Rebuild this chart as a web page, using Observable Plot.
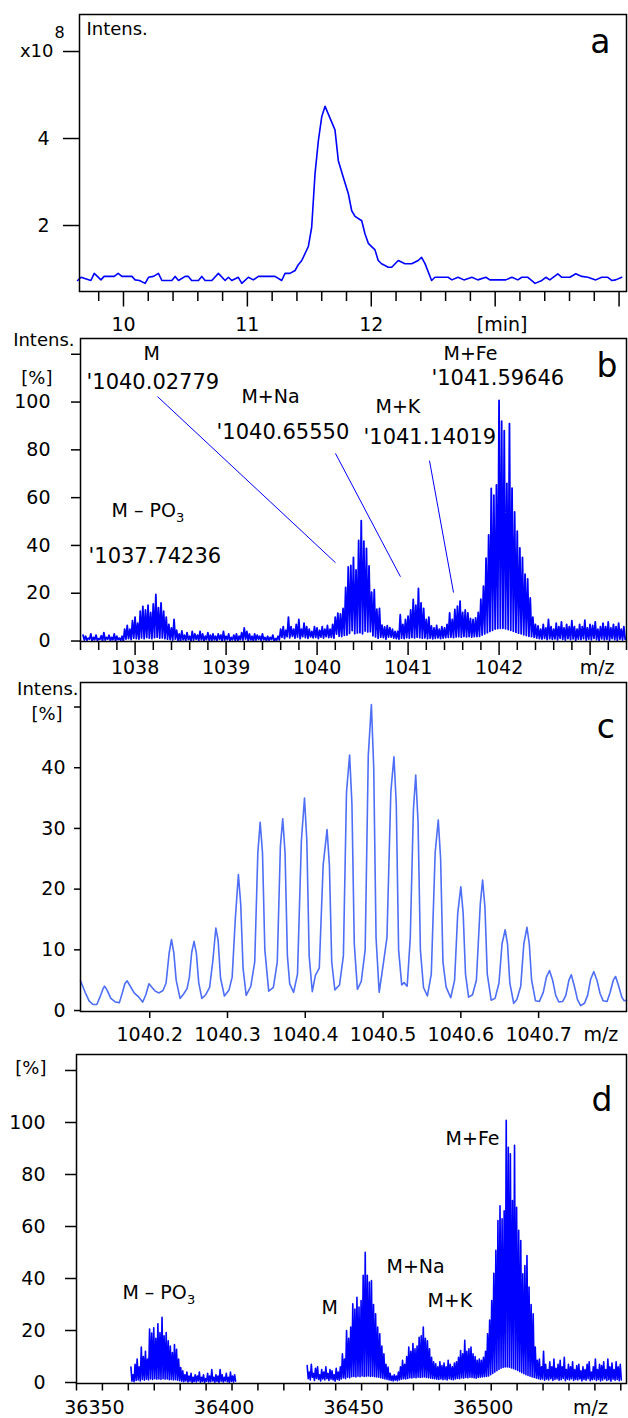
<!DOCTYPE html>
<html><head><meta charset="utf-8">
<script src="https://cdn.jsdelivr.net/npm/d3@7"></script>
<script src="https://cdn.jsdelivr.net/npm/@observablehq/plot@0.6"></script>
<style>
html,body{margin:0;padding:0;background:#fff;}
#wrap{position:relative;width:628px;height:1418px;overflow:hidden;background:#fff;}
</style></head><body><div id="wrap"></div>
<script>
// ================= DATA =================
// ---- Panel a: chromatogram (time [min], intensity x1e8) ----
const aTime = [9.63,9.657,9.737,9.764,9.818,9.844,9.925,9.957,9.987,10.068,10.094,10.129,10.175,10.202,10.242,10.282,10.31,10.39,10.417,10.444,10.498,10.524,10.55,10.605,10.632,10.659,10.713,10.766,10.82,10.847,10.874,10.927,10.955,11.008,11.048,11.089,11.223,11.277,11.304,11.344,11.385,11.411,11.439,11.492,11.519,11.546,11.573,11.6,11.627,11.707,11.734,11.774,11.815,11.842,11.869,11.923,11.949,11.976,12.03,12.056,12.083,12.137,12.165,12.218,12.272,12.326,12.379,12.406,12.433,12.487,12.514,12.62,12.651,12.70,12.748,12.812,12.86,12.925,12.957,13.086,13.135,13.183,13.215,13.264,13.322,13.377,13.409,13.441,13.506,13.538,13.603,13.651,13.699,13.748,13.812,13.86,13.909,13.941,13.973,14.022];
const aInt = [0.736,0.81,0.736,0.90,0.75,0.83,0.83,0.90,0.83,0.83,0.75,0.736,0.67,0.81,0.83,0.90,0.736,0.736,0.83,0.736,0.83,0.83,0.736,0.736,0.83,0.736,0.736,0.90,0.736,0.81,0.736,0.81,0.67,0.81,0.75,0.83,0.83,0.736,0.90,0.90,0.966,1.10,1.195,1.517,1.96,3.19,3.95,4.5,4.74,4.20,3.49,3.11,2.73,2.34,2.21,2.11,1.81,1.59,1.44,1.195,1.12,1.04,1.04,1.195,1.12,1.12,1.195,1.27,1.13,0.736,0.81,0.81,0.75,0.81,0.75,0.81,0.75,0.81,0.75,0.75,0.81,0.75,0.81,0.81,0.67,0.736,0.81,0.75,0.89,0.81,0.81,0.89,0.83,0.81,0.75,0.81,0.81,0.736,0.75,0.81];
const aYTicks = [2, 4, 6];
const aYTickLabels = ["2", "4", ""];
const aXMajor = [10, 11, 12, 13, 14];
const aXMajorLabels = ["10", "11", "12", "", ""];
const aXMinor = [9.8,10.2,10.4,10.6,10.8,11.2,11.4,11.6,11.8,12.2,12.4,12.6,12.8,13.2,13.4,13.6,13.8];
const aUnitTick = [13];
const aUnitLabel = ["[min]"];

// ---- Panel b: m/z spectrum (regular sampling, start + i*step) ----
const bStart = 1037.428;
const bStep = 0.0285714;
const bHi = [2.5,
 2,1.2,3,1.5,2.5,1,2.2,3.5,1.5,2.4,
 1.5,3,2,1.2,2,5,6.5,5,8.5,10,
 7.5,12.5,14.5,13,15,12,15.5,19.5,14,16,
 12.5,10,7,5.5,9,4.5,3,4.2,2.5,3.5,
 2,4,3,2.5,4,3,2,3.5,2.5,3,
 2,3,2.5,4,2,3,1.5,2.5,3,2,
 3.5,5.5,4,3,2,3,2.5,2,3,1.5,
 2,1.5,2.5,1,2,5,6,4.5,10,6,
 5,7,9,5,7.5,6,5,4,6,5.5,
 4.5,6,5,6.5,5,7,10,11.7,11.4,13.6,
 22.4,31,31.6,35,29.8,42.1,50.4,41.8,38.8,31.4,
 20.4,21.5,13.3,13.7,6.6,5.9,6.4,5.6,5,4,
 4,11,7,9,10.4,13,17.4,15,22,16,
 13.7,9,10,6.3,5.5,6.5,5,6,5.5,7,
 11.8,9,13.2,14.6,16.7,12,13,11.8,9.5,9,
 9.7,12,17.5,23,34.7,44.4,63.9,61,65.3,100.7,
 92,88,66,91,64,54,46,39,35,28,
 26,18,10,7,6.3,5,7,5.5,9,6,
 5,7.5,6,8,5.5,7,6,8.5,6,5,
 7,6,8.7,5.5,7,6.5,8,5,6,7.5,
 6,8,5.5,7,6,7.5,5,6];
const bLo = [0.4,
 0.3,0.8,0,0.5,0.2,0.7,0,0.4,0.8,0.2,
 0.5,0,0.6,0.3,0,0.8,1,0.6,1.2,1,
 0.8,1.3,1,1.5,1.2,1,1.4,1.6,1.2,1.3,
 1,0.8,0.6,0.4,0.8,0.3,0,0.5,0.2,0.6,
 0,0.4,0.7,0.2,0.5,0,0.6,0.3,0.1,0.5,
 0.2,0.7,0,0.4,0.6,0.1,0.5,0.3,0,0.6,
 0.4,0.8,0.2,0.5,0,0.4,0.7,0.2,0.5,0.1,
 0.3,0.6,0,0.4,0.5,1.5,1,1.8,1.3,2,
 1.2,1.6,1,1.8,1.4,1.1,1.7,1.3,1.5,1,
 1.6,1.2,1.8,1.4,1.5,1.2,2.9,2,1.9,2.4,
 2.5,3.2,4.4,3.1,3.4,3.5,3,4.2,3.8,3.9,
 2.2,1.7,1.2,1.6,1.4,0.8,1.6,1.6,1.2,1,
 0.8,1.2,1,1.4,1.2,1.5,1.3,1.6,1.4,1.2,
 1.3,1,1.2,0.9,1.1,1.3,1,1.2,1.4,1.5,
 1.6,1.4,1.7,1.8,1.6,1.9,1.7,1.8,1.6,1.8,
 1.9,2,2.5,3,3.5,4,4.5,5,5.2,5.3,
 5.3,5.1,4.8,4.5,4.1,3.7,3.3,3,2.6,2.3,
 2,1.8,1.5,1.2,1,0.8,1.1,0.6,1,0.7,
 0.9,0.5,1.1,0.7,0.4,1,0.6,0.9,0.3,0.8,
 0.6,1,0.4,0.8,0.5,1.1,0.6,0.3,0.9,0.5,
 0.7,0.4,1,0.6,0.3,0.8,0.5,0.7];
const bYTicks = [0,20,40,60,80,100,120];
const bYTickLabels = ["0","20","40","60","80","100",""];
const bXMajor = [1038,1039,1040,1041,1042,1043];
const bXMajorLabels = ["1038","1039","1040","1041","1042",""];
const bXMinor = [1037.4,1037.6,1037.8,1038.2,1038.4,1038.6,1038.8,1039.2,1039.4,1039.6,1039.8,1040.2,1040.4,1040.6,1040.8,1041.2,1041.4,1041.6,1041.8,1042.2,1042.4,1042.6,1042.8,1043.2,1043.4];
const bUnitTick = [1043];
const bUnitLabel = ["m/z"];
// annotations
const bNameText = ["M","M+Na","M+K","M+Fe","M \u2013 PO"];
const bNameX = [1038.092,1039.169,1040.642,1041.389,1037.741];
const bNameY = [117.4,99.4,95.6,117.8,51.7];
const bSubText = ["3"];
const bSubX = [1037.741];
const bSubY = [51.7];
const bMassText = ["'1040.02779","'1040.65550","'1041.14019","'1041.59646","'1037.74236"];
const bMassX = [1037.466,1038.895,1040.51,1041.257,1037.488];
const bMassY = [105.6,84.7,82.6,107.3,32.8];
const bLeadX1 = [1038.246,1040.202,1041.235];
const bLeadY1 = [102.3,78.5,75.5];
const bLeadX2 = [1040.202,1040.916,1041.499];
const bLeadY2 = [32.8,26.9,20.3];

// ---- Panel c: zoom on the M isotope cluster ----
const cMz = [1040.111,1040.117,1040.122,1040.127,1040.132,1040.136,1040.140,1040.142,1040.145,1040.150,1040.156,1040.161,1040.165,1040.168,1040.171,1040.175,1040.180,1040.186,1040.191,1040.195,1040.199,1040.203,1040.207,1040.212,1040.217,1040.221,1040.225,1040.228,1040.231,1040.234,1040.239,1040.244,1040.248,1040.251,1040.254,1040.257,1040.260,1040.263,1040.267,1040.272,1040.277,1040.281,1040.285,1040.288,1040.291,1040.296,1040.302,1040.306,1040.310,1040.314,1040.317,1040.320,1040.324,1040.330,1040.335,1040.339,1040.342,1040.345,1040.348,1040.353,1040.359,1040.364,1040.368,1040.371,1040.374,1040.377,1040.380,1040.385,1040.390,1040.395,1040.399,1040.402,1040.405,1040.409,1040.413,1040.418,1040.423,1040.428,1040.431,1040.434,1040.438,1040.444,1040.449,1040.453,1040.457,1040.460,1040.463,1040.467,1040.472,1040.477,1040.481,1040.485,1040.488,1040.491,1040.495,1040.500,1040.505,1040.510,1040.514,1040.517,1040.520,1040.524,1040.527,1040.531,1040.535,1040.539,1040.542,1040.545,1040.548,1040.552,1040.557,1040.562,1040.567,1040.571,1040.574,1040.577,1040.581,1040.587,1040.592,1040.596,1040.600,1040.603,1040.606,1040.610,1040.615,1040.620,1040.625,1040.628,1040.631,1040.634,1040.639,1040.644,1040.649,1040.653,1040.657,1040.660,1040.663,1040.668,1040.672,1040.677,1040.681,1040.685,1040.688,1040.691,1040.696,1040.701,1040.706,1040.710,1040.714,1040.718,1040.722,1040.726,1040.731,1040.735,1040.739,1040.742,1040.746,1040.750,1040.754,1040.759,1040.763,1040.767,1040.771,1040.775,1040.779,1040.783,1040.788,1040.792,1040.796,1040.799,1040.803,1040.807,1040.810,1040.813];
const cInt = [4.9,3.0,1.6,1.0,1.0,2.2,3.6,4.0,3.4,2.0,1.4,1.3,3.0,4.4,4.9,4.0,2.9,2.2,1.4,2.6,4.4,3.8,3.2,2.9,3.3,4.5,9.5,11.7,9.5,5.0,2.0,2.8,3.6,5.5,9.6,11.4,9.4,4.6,2.0,2.6,3.8,8.0,13.6,11.5,5.4,2.4,3.4,5.5,15.0,22.4,17.5,7.0,2.5,4.0,8.0,26.0,31.0,26.0,10.0,3.2,3.8,8.0,27.0,31.6,26.0,9.0,4.4,3.0,6.0,28.0,35.0,28.0,9.0,3.1,5.8,7.0,24.0,29.8,24.0,8.0,3.4,4.2,9.0,36.0,42.1,34.0,11.0,3.5,4.8,10.0,42.0,50.4,40.0,12.0,3.0,7.4,12.0,36.0,41.8,34.0,10.0,4.2,4.6,4.0,12.0,33.0,38.8,31.0,10.0,3.8,2.4,6.0,26.0,31.4,25.0,8.0,3.9,2.1,5.0,16.0,20.4,16.0,6.0,2.2,2.6,5.0,17.5,21.5,17.0,6.0,1.7,2.0,4.5,11.0,13.3,11.0,4.5,1.2,1.8,4.0,11.0,13.7,11.0,5.0,1.6,1.5,3.0,5.5,6.6,5.0,2.5,1.4,1.5,2.5,5.0,5.9,4.0,1.8,0.8,1.2,2.5,5.2,6.4,5.0,2.8,1.6,1.5,3.0,5.0,5.6,4.0,2.2,1.6,1.7];
const cYTicks = [0,10,20,30,40,50];
const cYTickLabels = ["0","10","20","30","40",""];
const cXTicks = [1040.2,1040.3,1040.4,1040.5,1040.6,1040.7];
const cXTickLabels = ["1040.2","1040.3","1040.4","1040.5","1040.6","1040.7"];

// ---- Panel d: deconvoluted mass spectrum (two regularly sampled segments) ----
const d1Start = 36361.0, d2Start = 36429.0, dStep = 0.8;
const d1Hi = [5.9,3,7,9,6,13.6,10,12,9,20.6,
 19,21,17,22.6,19.2,25.1,18,19.2,16,14,
 11.5,14.6,12.8,9,5.8,4.5,3,4,2.5,3.5,
 2,3,2.5,4,2,3,1.5,3.5,2.5,5,
 2,3,2.5,5,3,2,3.5,2,4,2.5,3];
const d1Lo = [0.5,0.3,0.8,1,0.6,1.2,0.9,1.3,1,1.4,
 1.2,1.5,1.3,1.4,1.2,1.5,1.3,1.4,1.1,1.2,
 1,1.1,0.9,0.7,0.5,0.3,0.6,0.2,0.5,0,
 0.4,0.2,0.6,0.1,0.4,0,0.5,0.2,0.3,0.6,
 0.1,0.4,0,0.5,0.2,0.6,0.3,0,0.4,0.2,0.5];
const d2Hi = [6.5,4,7,3.5,5.5,6,3,5,4,6,
 3.5,5,4.5,3,5.5,4,6,11,9,20,
 17,21.3,30.3,28.3,32.8,29,31.5,41.2,50.1,41.2,
 38.6,39.2,30,26.4,21.3,18.7,14,11,7,5.9,
 3.5,2.5,3,2.5,4,6,8.5,7,10,13.6,
 12,15,13,14,17.4,18,21.3,17,16,13,
 9.7,8,7.2,6,8,6.5,7.5,6,8.5,7,
 6,7.5,8,9.7,12.3,11,16.2,12,13,13.6,
 11,10,8.5,9,8.5,9.7,12,18.7,24,31.5,
 42,50.8,62.3,68,63,66,100.8,90.5,88,70,
 91.2,67.4,58.5,54.6,41.8,45,48.8,36.7,30,26.4,
 13.6,8.5,9,6,12,7,5,8,6,9,
 5.5,7,8.5,6,9.7,5,7,6,8,5,
 6.5,7,4.5,6,5,7,8,4,6,9,
 5,7,6.5,8,5,9,6,7.5,5,8,
 6,7];
const d2Lo = [1.5,1,2,0.8,1.6,1.2,0.6,1.4,1,1.5,
 0.8,1.3,1,0.5,1.2,0.9,1.4,1.8,1.5,2,
 1.8,2.2,2.3,2.1,2.4,2.2,2.5,2.3,2.4,2.5,
 2.3,2.4,2.2,2.1,2,1.8,1.6,1.4,1.2,1,
 0.8,0.6,0.9,0.7,1,1.3,1.5,1.4,1.6,1.8,
 1.7,1.9,1.8,2,1.9,2,2.1,1.9,1.8,1.7,
 1.6,1.5,1.3,1.2,1.4,1.1,1.3,1,1.5,1.2,
 1.1,1.4,1.6,1.5,1.8,1.7,1.9,1.8,2,1.9,
 1.8,1.7,1.9,2,2.1,2.2,2.3,2.5,3,3.5,
 4,4.5,5,5.5,5.8,6,6,5.9,5.6,5.3,
 5,4.6,4.2,3.8,3.4,3,2.7,2.4,2.1,1.9,
 1.7,1.5,1.2,1.4,0.9,1.3,1,1.5,0.8,1.2,
 1.4,0.9,1.1,1.6,0.7,1.3,1,1.5,0.8,1.2,
 1,1.4,0.6,1.2,0.9,1.5,0.7,1.1,1.3,0.8,
 1.2,0.6,1,1.4,0.8,1.1,0.5,1.3,0.9,1.2,
 0.7,1];
const dYTicks = [0,20,40,60,80,100,120];
const dYTickLabels = ["0","20","40","60","80","100",""];
const dXTicks = [36340,36350,36360,36370,36380,36390,36400,36410,36420,36430,36440,36450,36460,36470,36480,36490,36500,36510,36520,36530,36540,36550];
const dXLabeled = [36350,36400,36450,36500];
const dXLabels = ["36350","36400","36450","36500"];
const dNameText = ["M+Fe","M+Na","M+K","M","M \u2013 PO"];
const dNameX = [36482.4,36459.6,36475.4,36434.5,36357.7];
const dNameY = [91.2,42.3,29.2,26.5,32.3];
const dSubX = [36357.7];
const dSubY = [32.3];

// ================= DRAWING =================
const FONT = "DejaVu Sans";
const BLUE = "#0000ff";
const TICKFONT = 19;
const wrap = document.getElementById("wrap");
const baseStyle = {fontFamily: FONT, fontSize: "18px", background: "transparent", overflow: "visible", color: "black"};

function place(el, top) {
  el.style.position = "absolute";
  el.style.left = "0px";
  el.style.top = top + "px";
  wrap.appendChild(el);
}
function fmt(ticks, labels) {
  const m = new Map(ticks.map((t, i) => [t, labels[i]]));
  return d => (m.has(d) ? m.get(d) : "");
}
function txt(texts, xs, ys, opts) {
  return Plot.text(texts, {x: xs, y: ys, text: d => d, lineAnchor: "bottom", fill: "black", fontFamily: FONT, ...opts});
}
// y tick labels as explicit text, right-aligned at a fixed distance left of the frame
function yLabels(ticks, labels, dist) {
  return Plot.text(ticks, {y: ticks, frameAnchor: "left", dx: -dist, textAnchor: "end", lineAnchor: "middle",
    text: (d, i) => labels[i], fontSize: TICKFONT, fill: "black", fontFamily: FONT});
}
function zigzag(start, step, hi, lo) {
  const xs = [], ys = [];
  hi.forEach((h, i) => {
    xs.push(start + i * step); ys.push(h);
    xs.push(start + (i + 0.5) * step); ys.push(lo[i]);
  });
  return {xs, ys};
}

// ---- Panel a ----
const pa = Plot.plot({
  width: 628, height: 336, marginTop: 14, marginBottom: 45, marginLeft: 79, marginRight: 2,
  style: baseStyle,
  x: {domain: [9.645, 14.06], label: null},
  y: {domain: [0.483, 6.851], label: null},
  marks: [
    Plot.axisY({ticks: aYTicks, tickSize: 16, strokeWidth: 1.5, tickFormat: () => "", label: null}),
    yLabels(aYTicks, aYTickLabels, 30),
    Plot.axisX({ticks: aXMinor, tickSize: 10, strokeWidth: 1.5, tickFormat: () => "", label: null}),
    Plot.axisX({ticks: aXMajor, tickSize: 15.5, tickPadding: 10.5, strokeWidth: 1.5, fontSize: TICKFONT, tickFormat: fmt(aXMajor, aXMajorLabels), label: null}),
    Plot.axisX({ticks: aUnitTick, tickSize: 0, tickPadding: 26, dx: 7, fontSize: TICKFONT, tickFormat: fmt(aUnitTick, aUnitLabel), label: null}),
    Plot.line(aTime, {x: aTime, y: aInt, stroke: BLUE, strokeWidth: 1.6}),
    txt(["Intens."], [9.701], [6.37], {textAnchor: "start", fontSize: 18}),
    txt(["x10"], [9.435], [5.885], {textAnchor: "end", fontSize: 18}),
    txt(["8"], [9.443], [6.30], {textAnchor: "start", fontSize: 16}),
    txt(["a"], [13.931], [5.977], {textAnchor: "end", fontSize: 33}),
    Plot.frame({stroke: "black", strokeWidth: 1.5})
  ]
});
place(pa, 0);

// ---- Panel b ----
const bz = zigzag(bStart, bStep, bHi, bLo);
const pb = Plot.plot({
  width: 628, height: 381, marginTop: 38, marginBottom: 40, marginLeft: 80, marginRight: 2,
  style: baseStyle,
  x: {domain: [1037.4, 1043.4], label: null},
  y: {domain: [-0.2, 126.6], label: null},
  marks: [
    Plot.axisY({ticks: bYTicks, tickSize: 9, strokeWidth: 1.5, tickFormat: () => "", label: null}),
    yLabels(bYTicks, bYTickLabels, 30),
    Plot.axisX({ticks: bXMinor, tickSize: 9, strokeWidth: 1.5, tickFormat: () => "", label: null}),
    Plot.axisX({ticks: bXMajor, tickSize: 14, tickPadding: 5, strokeWidth: 1.5, fontSize: TICKFONT, tickFormat: fmt(bXMajor, bXMajorLabels), label: null}),
    Plot.axisX({ticks: bUnitTick, tickSize: 0, tickPadding: 19, dx: 7, fontSize: TICKFONT, tickFormat: fmt(bUnitTick, bUnitLabel), label: null}),
    Plot.line(bz.xs, {x: bz.xs, y: bz.ys, stroke: BLUE, strokeWidth: 1.8}),
    Plot.link(bLeadX1, {x1: bLeadX1, y1: bLeadY1, x2: bLeadX2, y2: bLeadY2, stroke: BLUE, strokeWidth: 1}),
    txt(bNameText, bNameX, bNameY, {textAnchor: "start", fontSize: 19}),
    txt(bSubText, bSubX, bSubY, {textAnchor: "start", fontSize: 13, dx: 64.5, dy: 5}),
    txt(bMassText, bMassX, bMassY, {textAnchor: "start", fontSize: 21}),
    txt(["Intens."], [1037.334], [123.6], {textAnchor: "end", fontSize: 18}),
    txt(["[%]"], [1037.092], [107.7], {textAnchor: "end", fontSize: 18}),
    txt(["b"], [1043.301], [110.3], {textAnchor: "end", fontSize: 33}),
    Plot.frame({stroke: "black", strokeWidth: 1.5})
  ]
});
place(pb, 300);

// ---- Panel c ----
const pc = Plot.plot({
  width: 628, height: 400, marginTop: 32, marginBottom: 39, marginLeft: 80, marginRight: 2,
  style: baseStyle,
  x: {domain: [1040.111, 1040.813], label: null},
  y: {domain: [-0.16, 54.04], label: null},
  marks: [
    Plot.axisY({ticks: cYTicks, tickSize: 6, strokeWidth: 1.5, tickFormat: () => "", label: null}),
    yLabels(cYTicks, cYTickLabels, 15),
    Plot.axisX({ticks: cXTicks, tickSize: 7, tickPadding: 9, strokeWidth: 1.5, fontSize: TICKFONT, tickFormat: fmt(cXTicks, cXTickLabels), label: null}),
    Plot.line(cMz, {x: cMz, y: cInt, stroke: "#4d6ef5", strokeWidth: 1.6}),
    Plot.text(["m/z"], {x: [1040.78], frameAnchor: "bottom", dy: 29, lineAnchor: "bottom", textAnchor: "middle", text: d => d, fontSize: TICKFONT, fill: "black", fontFamily: FONT}),
    txt(["Intens."], [1040.1084], [52.0], {textAnchor: "end", fontSize: 18}),
    txt(["[%]"], [1040.088], [47.9], {textAnchor: "end", fontSize: 18}),
    txt(["c"], [1040.798], [44.9], {textAnchor: "end", fontSize: 33}),
    Plot.frame({stroke: "black", strokeWidth: 1.5})
  ]
});
place(pc, 650);

// ---- Panel d ----
const dz1 = zigzag(d1Start, dStep, d1Hi, d1Lo);
const dz2 = zigzag(d2Start, dStep, d2Hi, d2Lo);
const pd = Plot.plot({
  width: 628, height: 388, marginTop: 24, marginBottom: 35, marginLeft: 76, marginRight: 2,
  style: baseStyle,
  x: {domain: [36340, 36552.2], label: null},
  y: {domain: [-0.38, 126.15], label: null},
  marks: [
    Plot.axisY({ticks: dYTicks, tickSize: 11, strokeWidth: 1.5, tickFormat: () => "", label: null}),
    yLabels(dYTicks, dYTickLabels, 31),
    Plot.axisX({ticks: dXTicks, tickSize: 7.5, strokeWidth: 1.5, tickFormat: () => "", label: null}),
    Plot.axisX({ticks: dXLabeled, tickSize: 0, tickPadding: 17, dx: -8, fontSize: TICKFONT, tickFormat: fmt(dXLabeled, dXLabels), label: null}),
    Plot.line(dz1.xs, {x: dz1.xs, y: dz1.ys, stroke: BLUE, strokeWidth: 1.6}),
    Plot.line(dz2.xs, {x: dz2.xs, y: dz2.ys, stroke: BLUE, strokeWidth: 1.6}),
    Plot.text(["m/z"], {x: [36538.3], frameAnchor: "bottom", dy: 30, lineAnchor: "bottom", textAnchor: "middle", text: d => d, fontSize: TICKFONT, fill: "black", fontFamily: FONT}),
    txt(dNameText, dNameX, dNameY, {textAnchor: "start", fontSize: 19}),
    txt(["3"], dSubX, dSubY, {textAnchor: "start", fontSize: 13, dx: 64.5, dy: 5}),
    txt(["[%]"], [36328.4], [118.8], {textAnchor: "end", fontSize: 18}),
    txt(["d"], [36546.8], [104.6], {textAnchor: "end", fontSize: 33}),
    Plot.frame({stroke: "black", strokeWidth: 1.5})
  ]
});
place(pd, 1030);
</script></body></html>
